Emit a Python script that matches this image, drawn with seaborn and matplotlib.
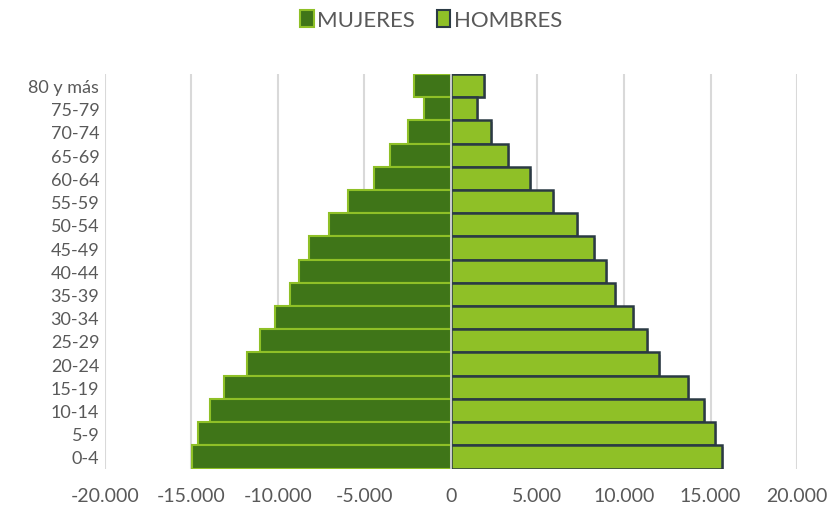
""" Pirámide de población: mujeres a la izquierda, hombres a la derecha """

import matplotlib
matplotlib.use("Agg")
import matplotlib.pyplot as plt
import matplotlib.ticker as ticker
from matplotlib.patches import Patch
import matplotlib.patheffects as pe
import numpy as np
import seaborn as sns

# grupos de edad (de arriba a abajo)
grupos = ["80 y más", "75-79", "70-74", "65-69", "60-64", "55-59", "50-54",
          "45-49", "40-44", "35-39", "30-34", "25-29", "20-24", "15-19",
          "10-14", "5-9", "0-4"]

mujeres = [2160, 1580, 2470, 3510, 4470, 5920, 7030, 8230, 8770, 9290,
           10160, 11040, 11770, 13140, 13930, 14590, 14990]

hombres = [1920, 1500, 2330, 3290, 4570, 5870, 7300, 8270, 8960, 9460,
           10500, 11310, 12040, 13700, 14600, 15240, 15640]

ticks_x = [-20000, -15000, -10000, -5000, 0, 5000, 10000, 15000, 20000]

# colores
verde_osc = "#3F7518"
verde_cla = "#8FC027"
borde_h = "#2B3A44"
gris_txt = "#595959"
gris_grid = "#D9D9D9"

sns.set_style("white")
plt.rcParams['font.family'] = ['Lato', 'DejaVu Sans']

fig, ax = plt.subplots(figsize=(8.32, 5.06), dpi=100)
fig.subplots_adjust(left=0.126, right=0.958, top=0.852, bottom=0.072)

sns.barplot(x=-np.array(mujeres), y=grupos, orient="h", color=verde_osc,
            edgecolor=verde_cla, linewidth=1.5, width=1.0, saturation=1,
            ax=ax, zorder=3)
n_muj = len(ax.patches)
sns.barplot(x=hombres, y=grupos, orient="h", color=verde_cla,
            edgecolor=borde_h, linewidth=1.8, width=1.0, saturation=1,
            ax=ax, zorder=3)

# sombra ligera en las barras de hombres
for p in ax.patches[n_muj:]:
    p.set_path_effects([pe.SimplePatchShadow(offset=(1.5, -1.5), shadow_rgbFace="#9a9a9a", alpha=0.6),
                        pe.Normal()])

ax.set_xlim(-20000, 20000)
ax.set_ylim(len(grupos) - 0.5, -0.5)
ax.set_xticks(ticks_x)
ax.xaxis.set_major_formatter(ticker.FuncFormatter(
    lambda v, pos: "{:,.0f}".format(v).replace(",", ".")))

ax.grid(axis="x", color=gris_grid, linewidth=1.5, zorder=0)
ax.axvline(0, color="#E6E6E6", linewidth=1.2, zorder=4)
sns.despine(ax=ax, left=True, bottom=True)

ax.tick_params(axis="both", length=0, colors=gris_txt)
ax.tick_params(axis="x", pad=13, labelsize=14)
ax.tick_params(axis="y", pad=4, labelsize=13)
ax.set_xlabel("")
ax.set_ylabel("")

handles = [Patch(facecolor=verde_osc, edgecolor=verde_cla, linewidth=1.5, label="MUJERES"),
           Patch(facecolor=verde_cla, edgecolor=borde_h, linewidth=1.5, label="HOMBRES")]
leg = fig.legend(handles=handles, loc="center", bbox_to_anchor=(0.518, 0.958), ncol=2,
                 frameon=False, fontsize=16, handlelength=0.6, handleheight=0.8,
                 handletextpad=0.15, columnspacing=1.0)
for t in leg.get_texts():
    t.set_color(gris_txt)

plt.savefig("out.png", dpi=100)
plt.close(fig)
